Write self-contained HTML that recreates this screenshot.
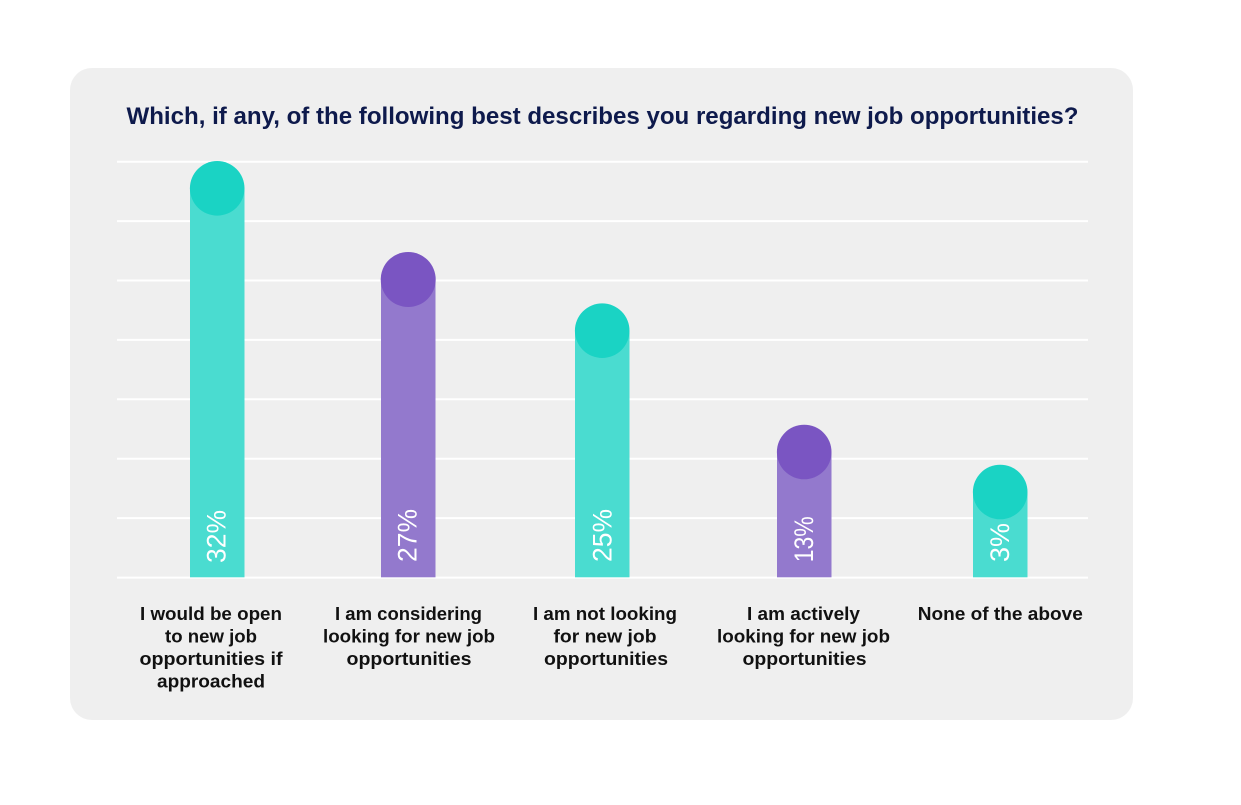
<!DOCTYPE html>
<html>
<head>
<meta charset="utf-8">
<style>
  html,body{margin:0;padding:0;background:#ffffff;}
  svg{display:block;}
  .t{font-family:"Liberation Sans",sans-serif;}
</style>
</head>
<body>
<svg width="1241" height="805" viewBox="0 0 1241 805" xmlns="http://www.w3.org/2000/svg">
  <rect x="0" y="0" width="1241" height="805" fill="#ffffff"/>
  <rect x="70" y="68" width="1063" height="652" rx="22" ry="22" fill="#efefef"/>

  <text class="t" x="126.5" y="124" font-size="24" font-weight="bold" fill="#0e1a4c" textLength="952" lengthAdjust="spacingAndGlyphs">Which, if any, of the following best describes you regarding new job opportunities?</text>

  <g stroke="#ffffff" stroke-width="2">
    <line x1="117" y1="161.7" x2="1088" y2="161.7"/>
    <line x1="117" y1="221.1" x2="1088" y2="221.1"/>
    <line x1="117" y1="280.5" x2="1088" y2="280.5"/>
    <line x1="117" y1="339.9" x2="1088" y2="339.9"/>
    <line x1="117" y1="399.3" x2="1088" y2="399.3"/>
    <line x1="117" y1="458.7" x2="1088" y2="458.7"/>
    <line x1="117" y1="518.1" x2="1088" y2="518.1"/>
    <line x1="117" y1="577.6" x2="1088" y2="577.6"/>
  </g>

  <!-- bars -->
  <rect x="190" y="188.3" width="54.5" height="389" fill="#4adcd0"/>
  <circle cx="217.2" cy="188.3" r="27.3" fill="#1ad3c4"/>

  <rect x="381" y="279.5" width="54.5" height="297.8" fill="#9379cd"/>
  <circle cx="408.2" cy="279.5" r="27.5" fill="#7a55c2"/>

  <rect x="575" y="330.7" width="54.5" height="246.6" fill="#4adcd0"/>
  <circle cx="602.2" cy="330.7" r="27.3" fill="#1ad3c4"/>

  <rect x="777" y="452" width="54.5" height="125.3" fill="#9379cd"/>
  <circle cx="804.2" cy="452" r="27.3" fill="#7a55c2"/>

  <rect x="973" y="492" width="54.5" height="85.3" fill="#4adcd0"/>
  <circle cx="1000.2" cy="492" r="27.3" fill="#1ad3c4"/>

  <!-- percent labels -->
  <g class="t" fill="#ffffff" font-size="27">
    <text transform="translate(225.5,563) rotate(-90)" textLength="53" lengthAdjust="spacingAndGlyphs">32%</text>
    <text transform="translate(416.5,562) rotate(-90)" textLength="53" lengthAdjust="spacingAndGlyphs">27%</text>
    <text transform="translate(611.5,562) rotate(-90)" textLength="53" lengthAdjust="spacingAndGlyphs">25%</text>
    <text transform="translate(813,562.3) rotate(-90)" textLength="46" lengthAdjust="spacingAndGlyphs">13%</text>
    <text transform="translate(1009,562) rotate(-90)" textLength="39" lengthAdjust="spacingAndGlyphs">3%</text>
  </g>

  <!-- category labels -->
  <g class="t" fill="#111111" font-size="18" font-weight="bold" text-anchor="middle">
    <text x="211" y="620" textLength="142" lengthAdjust="spacingAndGlyphs">I would be open</text>
    <text x="211" y="642.5" textLength="92" lengthAdjust="spacingAndGlyphs">to new job</text>
    <text x="211" y="665" textLength="143" lengthAdjust="spacingAndGlyphs">opportunities if</text>
    <text x="211" y="687.5" textLength="108" lengthAdjust="spacingAndGlyphs">approached</text>

    <text x="408.5" y="620" textLength="147" lengthAdjust="spacingAndGlyphs">I am considering</text>
    <text x="409" y="642.5" textLength="172" lengthAdjust="spacingAndGlyphs">looking for new job</text>
    <text x="409" y="665" textLength="125" lengthAdjust="spacingAndGlyphs">opportunities</text>

    <text x="605" y="620" textLength="144" lengthAdjust="spacingAndGlyphs">I am not looking</text>
    <text x="605" y="642.5" textLength="103" lengthAdjust="spacingAndGlyphs">for new job</text>
    <text x="606" y="665" textLength="124" lengthAdjust="spacingAndGlyphs">opportunities</text>

    <text x="803.5" y="620" textLength="113" lengthAdjust="spacingAndGlyphs">I am actively</text>
    <text x="803.5" y="642.5" textLength="173" lengthAdjust="spacingAndGlyphs">looking for new job</text>
    <text x="804.5" y="665" textLength="124" lengthAdjust="spacingAndGlyphs">opportunities</text>

    <text x="1000.3" y="620" textLength="165" lengthAdjust="spacingAndGlyphs">None of the above</text>
  </g>
</svg>
</body>
</html>
